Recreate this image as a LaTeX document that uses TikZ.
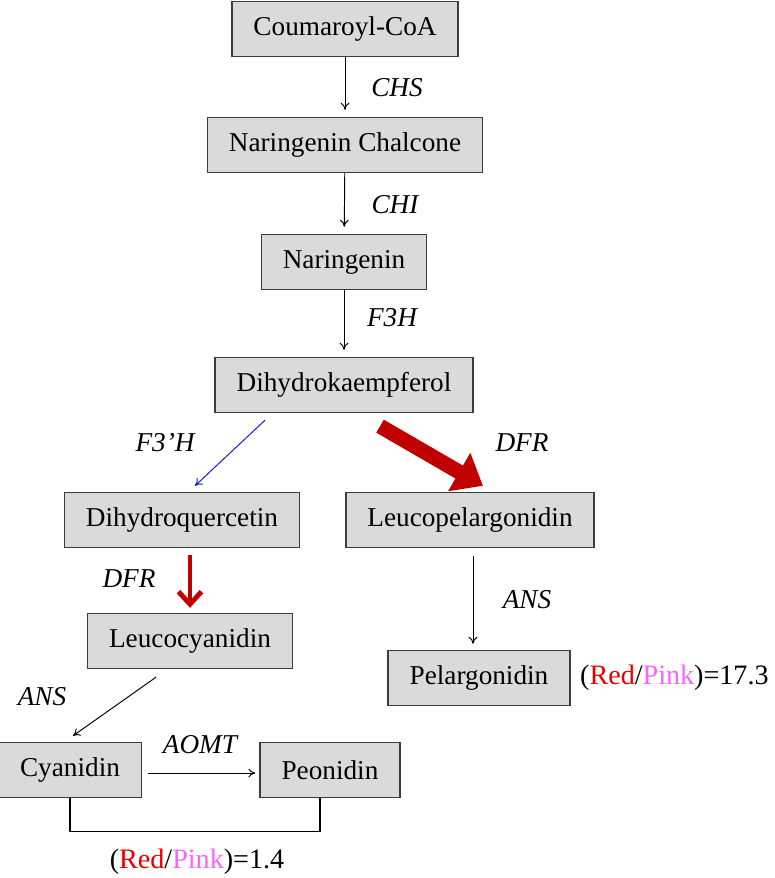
\documentclass[tikz,border=0pt]{standalone}
\usepackage{fontspec}
\setmainfont{Liberation Serif}
\usepackage{tikz}
\usetikzlibrary{shapes, arrows.meta, positioning, calc}
\definecolor{boxgray}{RGB}{218,218,218}
\definecolor{boxline}{RGB}{60,60,60}
\definecolor{darkred}{RGB}{192,0,0}
\definecolor{txtred}{RGB}{230,0,0}
\definecolor{txtpink}{RGB}{250,100,250}
\definecolor{f3blue}{RGB}{20,20,235}
\tikzstyle{cbox} = [rectangle, draw=boxline, fill=boxgray, line width=0.8pt, inner xsep=0.43cm, minimum height=1.1cm, font=\fontsize{15.5}{18}\selectfont]
\tikzstyle{enz} = [font=\fontsize{15.5}{18}\selectfont\itshape]
\tikzstyle{ratio} = [font=\fontsize{16}{19}\selectfont]
\tikzstyle{line} = [draw, -{To[length=4pt,width=5pt]}, line width=0.55pt]

\begin{document}
\begin{tikzpicture}[x=0.02cm, y=-0.02cm]
			\useasboundingbox (0,0) rectangle (774,878);
			\node [cbox] (cou) at (345, 29) {Coumaroyl-CoA};
			\node [cbox] (nch) at (345, 145) {Naringenin Chalcone};
			\node [cbox] (nar) at (344, 262) {Naringenin};
			\node [cbox] (dhk) at (344, 385) {Dihydrokaempferol};
			\node [cbox] (dhq) at (182, 520) {Dihydroquercetin};
			\node [cbox] (lpg) at (470, 520) {Leucopelargonidin};
			\node [cbox] (lcy) at (190, 641) {Leucocyanidin};
			\node [cbox] (pel) at (479, 678) {Pelargonidin};
			\node [cbox] (cya) at (70, 770) {Cyanidin};
			\node [cbox] (peo) at (330, 770) {Peonidin};
			
			\node [enz] (chs) at (397, 88) {CHS};
			\node [enz] (chi) at (395, 205) {CHI};
			\node [enz] (f3h) at (392, 318) {F3H};
			\node [enz] (f3'h) at (165, 443) {F3’H};
			\node [enz] (dfr1) at (522, 443) {DFR};
			\node [enz] (dfr2) at (129, 579) {DFR};
			\node [enz] (ans1) at (527, 600) {ANS};
			\node [enz] (ans2) at (42, 697) {ANS};
			\node [enz] (aomt) at (200, 745) {AOMT};
			
			\node [ratio, anchor=west] (rp1) at (574, 678) {(\textcolor{txtred}{Red}/\textcolor{txtpink}{Pink})=17.3};
			\node [ratio] (rp2) at (197, 862) {(\textcolor{txtred}{Red}/\textcolor{txtpink}{Pink})=1.4};
			
			\path [line, shorten >=4pt] (cou) -- (nch);
			\path [line, shorten >=4pt] (nch) -- (nar);
			\path [line, shorten >=4pt] (nar) -- (dhk);
			\path [line, draw=f3blue] ($(dhk.south)+(-79,7)$) -- ($(dhq.north)+(13,-6)$);
			\path [draw=darkred, line width=0.3cm, -{Triangle[width=0.85cm, length=0.55cm]}] ($(dhk.south)+(36,13)$) -- ($(lpg.north)+(13,-6)$);
			\path [draw=darkred, line width=2.8pt, -{Straight Barb[width=0.46cm, length=0.25cm]}] ($(dhq.south)+(8,7)$) -- ($(lcy.north)+(0,-5)$);
			\path [line] ($(lpg.south)+(3,8)$) -- ($(pel.north)+(-6,-6)$);
			\path [line] ($(lcy.south)+(-34,8)$) -- ($(cya.north)+(3,-6)$);
			\path [line] ($(cya.east)+(6,3)$) -- ($(peo.west)+(-4,3)$);
			\path [draw, line width=0.8pt] (cya.south) -- ($(cya.south)+(0,33)$) -| ($(peo.south)+(-10,0)$);
		\end{tikzpicture}
\end{document}
